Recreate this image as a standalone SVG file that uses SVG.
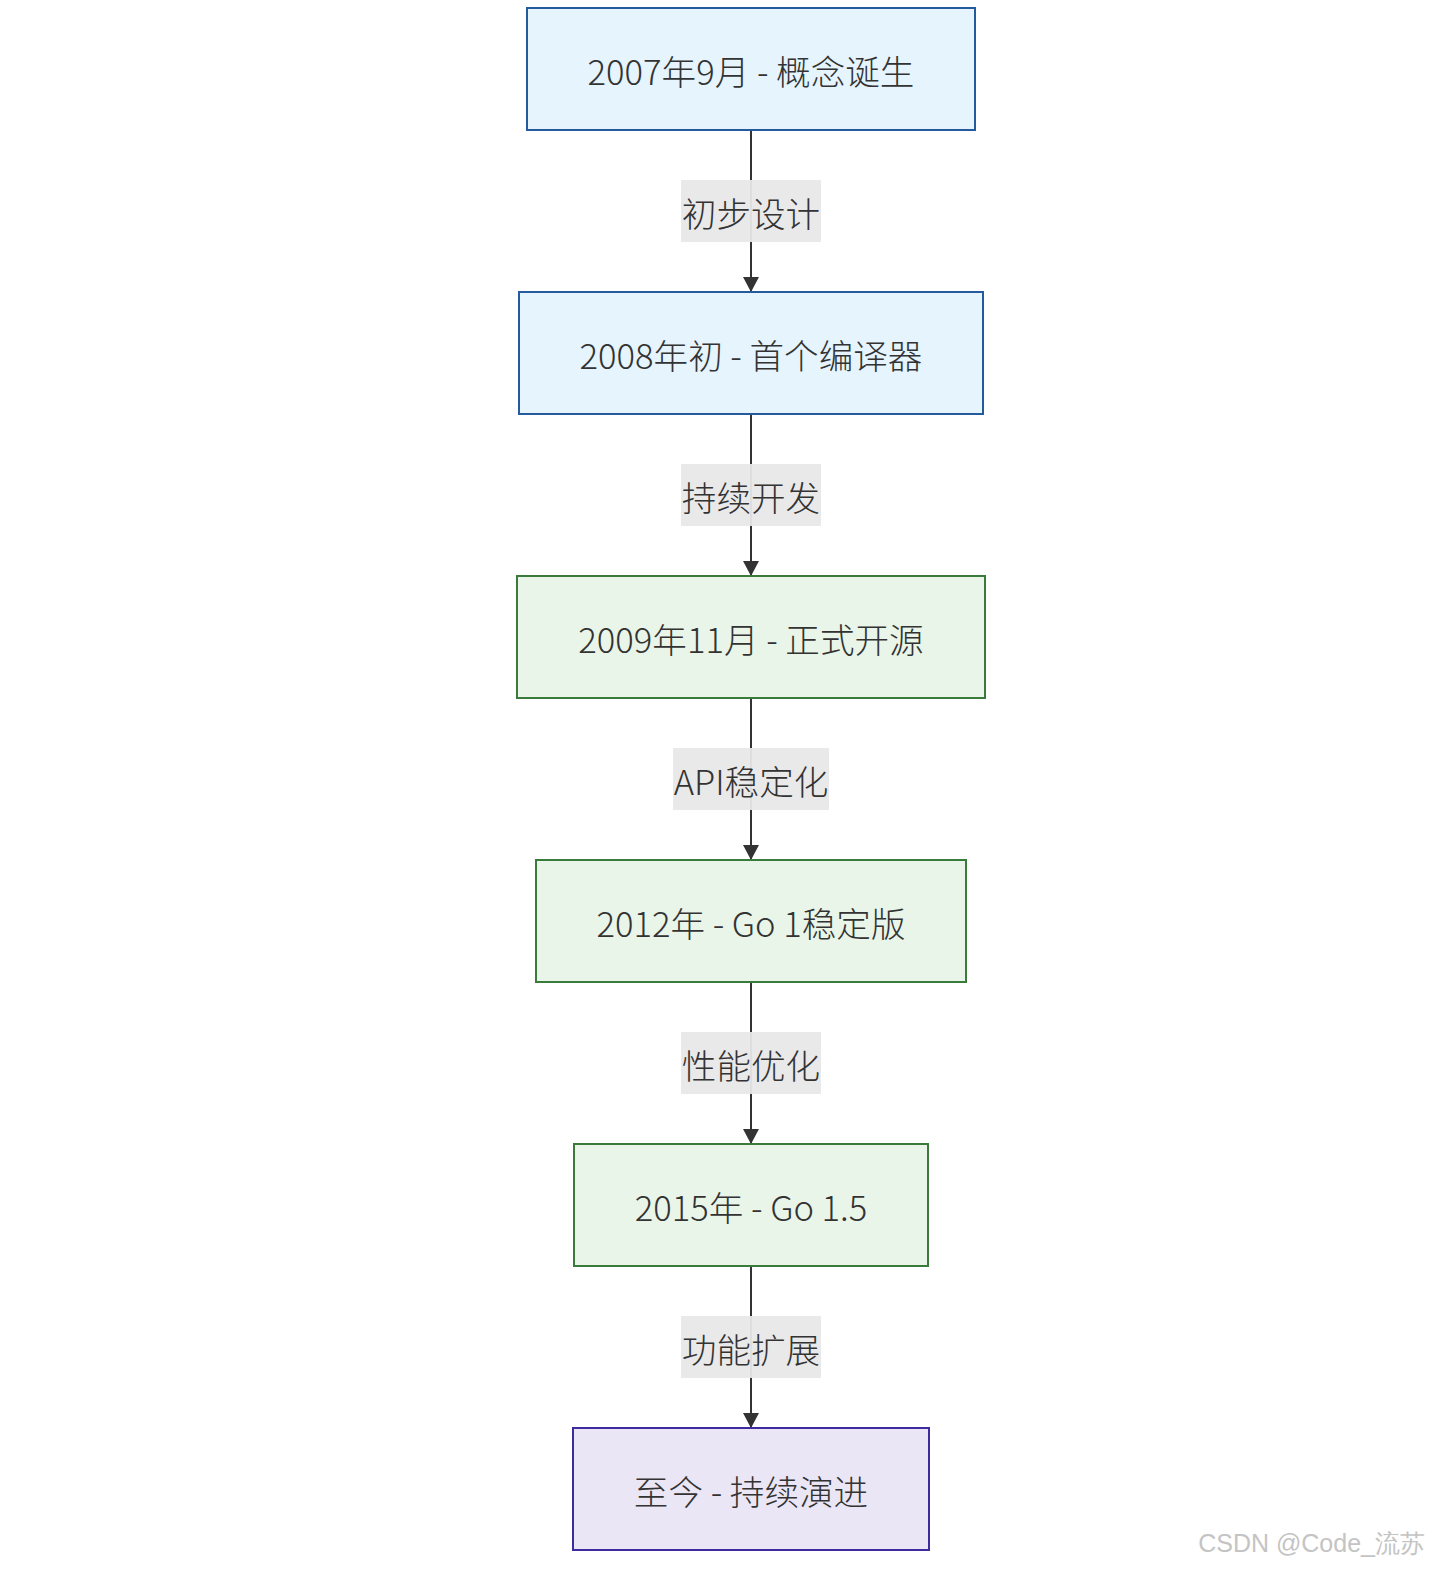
<svg xmlns="http://www.w3.org/2000/svg" width="1439" height="1578" viewBox="0 0 1439 1578">
<style>
.n rect{stroke-width:2}
.blue rect{fill:#e6f4fd;stroke:#245a9e}
.green rect{fill:#eaf5e9;stroke:#3a7a3a}
.purple rect{fill:#ebe6f5;stroke:#3f2a9e}
text{font-family:"Noto Sans CJK SC","Noto Sans",sans-serif;font-size:34.6px;fill:#333;text-anchor:middle;dominant-baseline:central;font-weight:300}
.lbl rect{fill:#e8e8e8;opacity:0.95}
.edge{stroke:#333;stroke-width:2;fill:none}
.wm{font-family:"Liberation Sans",Arial,sans-serif;font-size:25px;fill:#c4c4c4;text-anchor:end;font-weight:400}
</style>
<defs>
<marker id="arr" viewBox="0 0 15 16" refX="15" refY="8" markerWidth="15" markerHeight="16" markerUnits="userSpaceOnUse" orient="auto">
<path d="M0,0 L15,8 L0,16 z" fill="#333"/>
</marker>
</defs>
<rect width="1439" height="1578" fill="#fff"/>
<g id="connectors">
<line class="edge" x1="751" y1="130" x2="751" y2="292" marker-end="url(#arr)"/>
<line class="edge" x1="751" y1="414" x2="751" y2="576" marker-end="url(#arr)"/>
<line class="edge" x1="751" y1="698" x2="751" y2="860" marker-end="url(#arr)"/>
<line class="edge" x1="751" y1="982" x2="751" y2="1144" marker-end="url(#arr)"/>
<line class="edge" x1="751" y1="1266" x2="751" y2="1428" marker-end="url(#arr)"/>
<g class="lbl"><rect x="681" y="180" width="140" height="62"/><text x="751" y="212">初步设计</text></g>
<g class="lbl"><rect x="681" y="464" width="140" height="62"/><text x="751" y="496">持续开发</text></g>
<g class="lbl"><rect x="673" y="748" width="156" height="62"/><text x="751" y="780">API稳定化</text></g>
<g class="lbl"><rect x="681" y="1032" width="140" height="62"/><text x="751" y="1064">性能优化</text></g>
<g class="lbl"><rect x="681" y="1316" width="140" height="62"/><text x="751" y="1348">功能扩展</text></g>
</g>
<g id="n1" class="n blue"><rect x="527" y="8" width="448" height="122"/><text x="751" y="70">2007年9月 - 概念诞生</text></g>
<g id="n2" class="n blue"><rect x="519" y="292" width="464" height="122"/><text x="751" y="354">2008年初 - 首个编译器</text></g>
<g id="n3" class="n green"><rect x="517" y="576" width="468" height="122"/><text x="751" y="638">2009年11月 - 正式开源</text></g>
<g id="n4" class="n green"><rect x="536" y="860" width="430" height="122"/><text x="751" y="922">2012年 - Go 1稳定版</text></g>
<g id="n5" class="n green"><rect x="574" y="1144" width="354" height="122"/><text x="751" y="1206">2015年 - Go 1.5</text></g>
<g id="n6" class="n purple"><rect x="573" y="1428" width="356" height="122"/><text x="751" y="1490">至今 - 持续演进</text></g>
<text class="wm" x="1425" y="1552" style="dominant-baseline:auto">CSDN @Code_流苏</text>
</svg>
